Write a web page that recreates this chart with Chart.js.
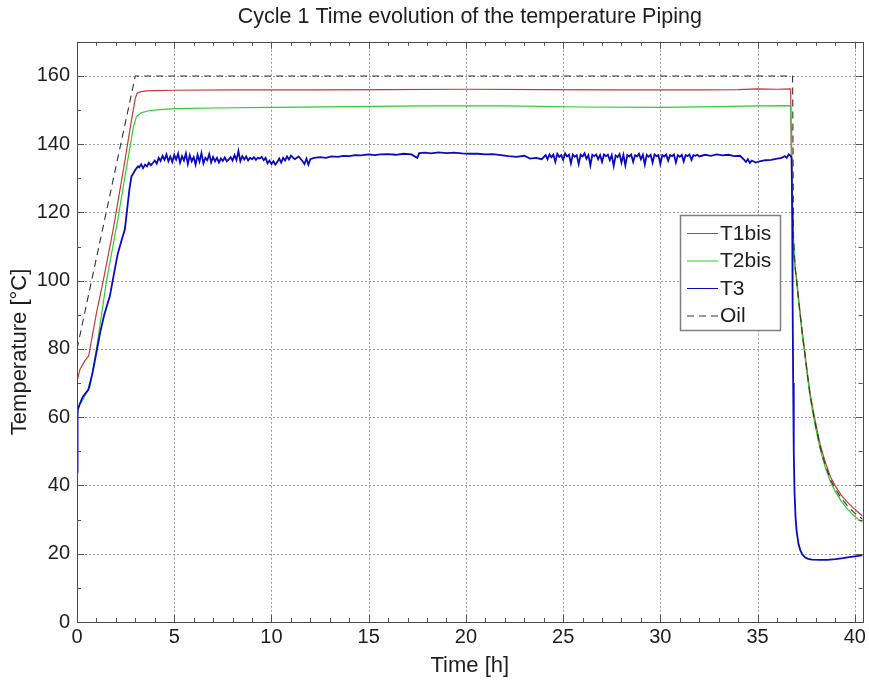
<!DOCTYPE html>
<html>
<head>
<meta charset="utf-8">
<script src="https://cdn.jsdelivr.net/npm/chart.js@4/dist/chart.umd.min.js"></script>
<style>
html,body{margin:0;padding:0;background:#fff;}
#wrap{width:869px;height:681px;}
</style>
</head>
<body>
<div id="wrap"><canvas id="c" width="869" height="681"></canvas></div>
<script>
// ---- data (time in hours, temperature in °C) ----
const chartTitle = 'Cycle 1 Time evolution of the temperature Piping';
const xTitle = 'Time [h]';
const yTitle = 'Temperature [°C]';
const seriesNames = ['T1bis', 'T2bis', 'T3', 'Oil'];
const xTickValues = [0, 5, 10, 15, 20, 25, 30, 35, 40];
const yTickValues = [0, 20, 40, 60, 80, 100, 120, 140, 160];

const tT1 = [0, 0.02, 0.15, 0.4, 0.6, 1.0, 1.35, 1.86, 2.4, 2.8, 3.0, 3.1, 3.3, 3.6, 4.0, 5, 8, 12, 16, 20, 24, 28, 32, 34, 35, 36, 36.7,
  36.72, 36.75, 36.8, 36.87, 36.95, 37.0, 37.1, 37.2, 37.3, 37.4, 37.55, 37.7, 37.85, 38.0, 38.2, 38.35, 38.5, 38.75, 39.0, 39.3, 39.6, 39.9, 40.2, 40.4];
const vT1 = [64, 71, 74, 76.5, 78, 90.5, 100, 115, 133, 147, 153.5, 155, 155.4, 155.6, 155.7, 155.8, 155.9, 155.9, 156.0, 156.1, 156.0, 155.9, 155.9, 156.0, 156.2, 156.1, 156.2,
  145, 130, 117, 107, 103, 101, 95.3, 90, 85, 80.5, 73.5, 67, 62.2, 58, 52.5, 49.3, 46.5, 42.5, 39.8, 37.2, 35.2, 33.5, 32.0, 31.0];

const tT2 = [0, 0.05, 0.24, 0.67, 1.0, 1.52, 2.1, 2.6, 2.9, 3.05, 3.3, 3.7, 4.25, 5, 7, 10, 14, 18, 22, 26, 30, 33, 35, 36.7,
  36.74, 36.78, 36.84, 36.92, 37.0, 37.1, 37.2, 37.3, 37.4, 37.55, 37.7, 37.85, 38.0, 38.2, 38.35, 38.5, 38.75, 39.0, 39.3, 39.6, 39.9, 40.2, 40.4];
const vT2 = [61, 63, 64.5, 69, 80, 100, 118, 135, 145, 148, 149.2, 149.8, 150.1, 150.4, 150.6, 150.8, 151.0, 151.2, 151.2, 150.9, 150.8, 151.0, 151.2, 151.3,
  140, 126, 113, 104, 100, 94.3, 89, 84, 79.5, 72.5, 66, 61, 56.5, 51, 47.8, 45, 41, 38.2, 35.4, 33.2, 31.4, 30.0, 29.2];

const tT3 = [0, 0.03, 0.15, 0.3, 0.58, 0.8, 1.0, 1.2, 1.4, 1.69, 1.9, 2.1, 2.3, 2.46, 2.6, 2.7, 2.8, 2.9, 3.0, 3.14,
  3.2, 3.3, 3.4, 3.5, 3.6, 3.7, 3.8, 3.9, 4.0, 4.1, 4.2, 4.3, 4.4, 4.5, 4.6, 4.7, 4.8, 4.9, 5.0,
  5.1, 5.2, 5.3, 5.4, 5.5, 5.6, 5.7, 5.8, 5.9, 6.0, 6.1, 6.2, 6.3, 6.4, 6.5, 6.6, 6.7, 6.8, 6.9, 7.0,
  7.1, 7.2, 7.3, 7.4, 7.5, 7.6, 7.7, 7.8, 7.9, 8.0, 8.1, 8.2, 8.3, 8.4, 8.5, 8.6, 8.7, 8.8, 8.9, 9.0,
  9.1, 9.2, 9.3, 9.4, 9.5, 9.6, 9.7, 9.8, 9.9, 10.0, 10.1, 10.2, 10.3, 10.4, 10.5, 10.6, 10.7, 10.8, 10.9, 11.0,
  11.2, 11.4, 11.6, 11.7, 11.8, 11.9, 12.0, 12.2, 12.5, 12.8, 13.1, 13.4, 13.7, 14.0, 14.3, 14.6, 15.0,
  15.3, 15.6, 16.0, 16.4, 16.8, 17.2, 17.5, 17.6, 17.9, 18.2, 18.6, 19.0, 19.4, 19.8, 20.2, 20.6, 21.0,
  21.4, 21.8, 22.2, 22.6, 23.0, 23.3, 23.6, 23.9, 24.1, 24.2, 24.3, 24.4, 24.5, 24.6, 24.7, 24.8, 24.9, 25.0,
  25.1, 25.2, 25.3, 25.4, 25.5, 25.6, 25.7, 25.8, 25.9, 26.0, 26.1, 26.2, 26.3, 26.4, 26.5, 26.6, 26.7, 26.8, 26.9, 27.0,
  27.1, 27.2, 27.3, 27.4, 27.5, 27.6, 27.7, 27.8, 27.9, 28.0, 28.1, 28.2, 28.3, 28.4, 28.5, 28.6, 28.7, 28.8, 28.9, 29.0,
  29.1, 29.2, 29.3, 29.4, 29.5, 29.6, 29.7, 29.8, 29.9, 30.0, 30.1, 30.2, 30.3, 30.4, 30.5, 30.6, 30.7, 30.8, 30.9, 31.0,
  31.1, 31.2, 31.3, 31.4, 31.5, 31.6, 31.7, 31.8, 31.9, 32.0, 32.3, 32.6, 32.9, 33.2, 33.5, 33.8, 34.1,
  34.3, 34.4, 34.5, 34.6, 34.7, 34.9, 35.1, 35.4, 35.7, 36.0, 36.2, 36.4, 36.5, 36.6, 36.7, 36.75,
  36.78, 36.8, 36.83, 36.86, 36.9, 36.95, 37.0, 37.1, 37.2, 37.3, 37.45, 37.6, 37.8, 38.2, 38.6, 39.0, 39.4, 39.8, 40.2, 40.4];
const vT3 = [44, 62, 64, 66, 68, 73, 79, 85, 90, 95.5, 102, 108, 112, 115, 122, 127, 130.5, 131.5, 132.5, 133.5,
  133.2, 134.1, 133.0, 134.0, 133.5, 134.6, 133.8, 134.5, 135.2, 134.3, 136.0, 135.1, 136.6, 135.4, 137.0, 135.0, 136.4, 134.8, 136.9,
  135.5, 137.2, 134.6, 136.5, 135.2, 137.3, 134.2, 136.8, 135.0, 136.2, 134.0, 136.9, 134.9, 137.4, 134.4, 136.0, 135.3, 137.1, 134.7, 136.3,
  135.0, 136.0, 134.6, 135.8, 135.1, 136.1, 135.0, 135.5, 136.2, 135.2, 136.8, 135.4, 138.0, 135.0, 136.5, 135.5, 136.4, 135.2, 136.0, 135.6,
  136.2, 135.4, 136.0, 135.8, 136.3, 135.3, 136.0, 134.4, 135.2, 134.2, 135.0, 134.0, 134.8, 135.8, 134.6, 136.0, 135.2, 136.4, 135.5, 136.6,
  135.6, 136.4, 135.0, 134.2, 135.8, 134.0, 135.6, 136.0, 136.2, 136.0, 136.4, 136.3, 136.6, 136.5, 136.8, 136.7, 137.0,
  136.8, 137.0, 137.1, 136.9, 137.2, 137.0, 136.0, 137.4, 137.5, 137.3, 137.6, 137.4, 137.5, 137.3, 137.2, 137.2, 137.0,
  137.1, 136.8, 136.5, 136.3, 136.6, 135.8, 136.0, 135.6, 136.8, 135.6, 137.0, 136.2, 136.9, 134.8, 137.2, 136.3, 136.8, 135.4,
  137.3, 136.4, 136.9, 134.4, 137.0, 136.3, 136.8, 134.2, 136.9, 136.4, 137.3, 135.7, 136.8, 133.8, 136.9, 136.5, 137.0, 135.6, 136.8, 134.8,
  137.0, 136.5, 136.9, 135.3, 136.8, 133.6, 136.7, 136.2, 137.1, 134.6, 136.9, 133.8, 136.8, 136.4, 137.0, 134.8, 136.8, 136.4, 137.2, 135.6,
  136.9, 134.0, 136.9, 136.3, 136.9, 134.6, 137.0, 136.5, 136.8, 134.2, 136.8, 136.4, 137.0, 135.2, 136.8, 136.5, 137.0, 134.6, 136.8, 136.3,
  136.9, 134.9, 136.8, 136.5, 137.0, 135.4, 136.8, 136.6, 136.9, 136.4, 136.9, 136.6, 137.0, 136.7, 136.9, 136.5, 136.6,
  135.5, 134.8, 135.6, 134.5, 135.2, 134.6, 135.0, 135.3, 135.4, 135.8, 135.9, 136.5, 136.0, 137.0, 136.6, 136.0,
  120, 95, 70, 50, 38, 31, 27, 23, 21, 19.8, 18.9, 18.5, 18.3, 18.2, 18.2, 18.4, 18.7, 19.1, 19.4, 19.6];

const tOil = [0, 3.0, 36.8, 36.85, 36.95, 37.0, 37.1, 37.2, 37.3, 37.4, 37.55, 37.7, 37.85, 38.0, 38.2, 38.35, 38.5, 38.75, 39.0, 39.3, 39.6, 39.9, 40.2, 40.4];
const vOil = [80, 160, 160, 112, 103, 100.5, 94.8, 89.5, 84.5, 80, 73, 66.5, 61.6, 57.2, 51.7, 48.5, 45.7, 41.7, 39, 36.3, 34.2, 32.4, 31, 30.1];

// ---- styles ----
const colT1 = '#c83838';
const colT2 = '#2ecc2e';
const colT3 = '#0a0ac0';
const colOil = '#333333';
const fontFam = '"Liberation Sans", Arial, sans-serif';
const txtCol = '#1e1e1e';

const pts = (ts, vs) => ts.map((t, i) => ({x: t, y: vs[i]}));

// draws the dotted grid, the axes box and inward major/minor ticks
const frame = {
  id: 'frame',
  beforeDatasetsDraw(chart) {
    const {ctx, chartArea: a, scales: {x, y}} = chart;
    ctx.save();
    ctx.strokeStyle = '#9a9a9a';
    ctx.lineWidth = 1;
    ctx.setLineDash([2, 2]);
    ctx.beginPath();
    xTickValues.forEach(v => {
      if (v <= x.min) return;
      const px = Math.round(x.getPixelForValue(v)) + 0.5;
      ctx.moveTo(px, a.top); ctx.lineTo(px, a.bottom);
    });
    yTickValues.forEach(v => {
      if (v <= y.min) return;
      const py = Math.round(y.getPixelForValue(v)) + 0.5;
      ctx.moveTo(a.left, py); ctx.lineTo(a.right, py);
    });
    ctx.stroke();
    ctx.restore();
  },
  afterDatasetsDraw(chart) {
    const {ctx, chartArea: a, scales: {x, y}} = chart;
    ctx.save();
    ctx.strokeStyle = '#555';
    ctx.lineWidth = 1;
    ctx.setLineDash([]);
    ctx.beginPath();
    for (let v = 0; v <= x.max + 1e-9; v += 1) {
      const len = (v % 5 === 0) ? 7 : 4;
      const px = Math.round(x.getPixelForValue(v)) + 0.5;
      ctx.moveTo(px, a.bottom); ctx.lineTo(px, a.bottom - len);
      ctx.moveTo(px, a.top); ctx.lineTo(px, a.top + len);
    }
    for (let v = 0; v <= y.max + 1e-9; v += 10) {
      const len = (v % 20 === 0) ? 7 : 4;
      const py = Math.round(y.getPixelForValue(v)) + 0.5;
      ctx.moveTo(a.left, py); ctx.lineTo(a.left + len, py);
      ctx.moveTo(a.right, py); ctx.lineTo(a.right - len, py);
    }
    ctx.stroke();
    ctx.strokeStyle = '#4a4a4a';
    ctx.strokeRect(Math.round(a.left) + 0.5, Math.round(a.top) + 0.5, Math.round(a.right - a.left), Math.round(a.bottom - a.top));
    ctx.restore();
  },
  afterDraw(chart) {
    // y axis title
    const {ctx, chartArea: a} = chart;
    ctx.save();
    ctx.translate(20, (a.top + a.bottom) / 2 + 20);
    ctx.rotate(-Math.PI / 2);
    ctx.font = '22px ' + fontFam;
    ctx.fillStyle = txtCol;
    ctx.textAlign = 'center';
    ctx.textBaseline = 'middle';
    ctx.fillText(yTitle, 0, 0);
    ctx.restore();
  }
};

// legend box inside the plot
const boxLegend = {
  id: 'boxLegend',
  afterDraw(chart) {
    const {ctx} = chart;
    const bx = 680, by = 215, bw = 100, bh = 115;
    ctx.save();
    ctx.fillStyle = '#ffffff';
    ctx.fillRect(bx, by, bw, bh);
    ctx.strokeStyle = '#808080';
    ctx.lineWidth = 1.5;
    ctx.strokeRect(bx + 0.5, by + 0.5, bw, bh);
    ctx.font = '21px ' + fontFam;
    ctx.textBaseline = 'middle';
    ctx.fillStyle = txtCol;
    chart.data.datasets.forEach((ds, i) => {
      const yy = by + 18 + i * 27.5;
      ctx.beginPath();
      ctx.strokeStyle = ds.borderColor;
      ctx.lineWidth = 1;
      ctx.setLineDash(ds.borderDash || []);
      ctx.moveTo(bx + 7, yy + 0.5); ctx.lineTo(bx + 38, yy + 0.5);
      ctx.stroke();
      ctx.setLineDash([]);
      ctx.fillText(ds.label, bx + 40, yy + 1);
    });
    ctx.restore();
  }
};

new Chart(document.getElementById('c'), {
  type: 'line',
  data: {
    datasets: [
      {label: seriesNames[0], data: pts(tT1, vT1), borderColor: colT1, borderWidth: 1.2, order: 4},
      {label: seriesNames[1], data: pts(tT2, vT2), borderColor: colT2, borderWidth: 1.2, order: 3},
      {label: seriesNames[2], data: pts(tT3, vT3), borderColor: colT3, borderWidth: 1.8, order: 2},
      {label: seriesNames[3], data: pts(tOil, vOil), borderColor: colOil, borderWidth: 1.1, borderDash: [7, 5], order: 1}
    ]
  },
  options: {
    responsive: false,
    animation: false,
    events: [],
    layout: {padding: {left: 0, right: 3, top: 0, bottom: 0}},
    elements: {point: {radius: 0}, line: {tension: 0, fill: false}},
    plugins: {
      legend: {display: false},
      tooltip: {enabled: false},
      title: {
        display: true, text: chartTitle, fullSize: false,
        color: txtCol, font: {family: fontFam, size: 21.5, weight: 'normal'},
        padding: {top: 4, bottom: 12}
      }
    },
    scales: {
      x: {
        type: 'linear', min: 0, max: 40.4,
        afterBuildTicks: s => { s.ticks = xTickValues.map(v => ({value: v})); },
        afterFit: s => { s.height = 59; },
        ticks: {stepSize: 5, color: txtCol, font: {family: fontFam, size: 20}, padding: 3, maxRotation: 0},
        grid: {display: false, drawTicks: false},
        border: {display: false},
        title: {display: true, text: xTitle, color: txtCol, font: {family: fontFam, size: 22}, padding: {top: 0, bottom: 2}}
      },
      y: {
        type: 'linear', min: 0, max: 170,
        afterBuildTicks: s => { s.ticks = yTickValues.map(v => ({value: v})); },
        afterFit: s => { s.width = 77; },
        ticks: {stepSize: 20, color: txtCol, font: {family: fontFam, size: 20}, padding: 7},
        grid: {display: false, drawTicks: false},
        border: {display: false},
        title: {display: false}
      }
    }
  },
  plugins: [frame, boxLegend]
});
</script>
</body>
</html>
